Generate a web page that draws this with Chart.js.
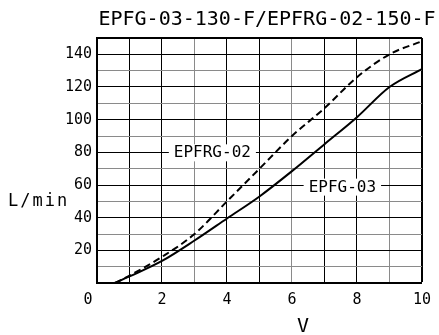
<!DOCTYPE html>
<html>
<head>
<meta charset="utf-8">
<script src="https://cdn.jsdelivr.net/npm/chart.js@4/dist/chart.umd.min.js"></script>
<style>
  html, body { margin: 0; padding: 0; background: #fff; }
</style>
</head>
<body>
<canvas id="flowChart" width="439" height="335"></canvas>
<script>
// input voltage (V) and flow (L/min)
const voltage = [0.55, 1, 2, 3, 4, 5, 6, 7, 8, 9, 10];
const epfg03  = [0, 4, 13.5, 26, 39.5, 53, 68.5, 85, 101.5, 120, 131];
const epfrg02 = [0, 4.5, 16, 30, 50, 70, 90, 107, 126, 140, 148];

const seriesNames = ['EPFG-03', 'EPFRG-02'];
const xTickLabels = [0, 2, 4, 6, 8, 10];
const yTickLabels = [20, 40, 60, 80, 100, 120, 140];

const chartTitle = 'EPFG-03-130-F/EPFRG-02-150-F';
const yTitle = 'L/min';
const xTitle = 'V';

const MONO = '"DejaVu Sans Mono", monospace';

function toXY(ys) {
	var pts = [];
	for (var i = 0; i < voltage.length; i++) {
		pts.push({x: voltage[i], y: ys[i]});
	}
	return pts;
}

// text that sits on the curves, titles etc.
const textPlugin = {
	id: 'texts',
	afterDraw(chart) {
		const ctx = chart.ctx;
		const xs = chart.scales.x, ys = chart.scales.y;
		ctx.save();
		ctx.fillStyle = '#000';
		ctx.textBaseline = 'middle';

		// title
		ctx.font = '20px ' + MONO;
		ctx.textAlign = 'center';
		ctx.fillText(chartTitle, 267, 20);

		// axis titles
		ctx.font = '17px ' + MONO;
		ctx.textAlign = 'left';
		ctx.letterSpacing = '2px';
		ctx.fillText(yTitle, 8, 202);
		ctx.letterSpacing = '0px';
		ctx.font = '20px ' + MONO;
		ctx.textAlign = 'center';
		ctx.fillText(xTitle, 303, 327);

		// curve labels on white boxes
		const tags = [
			{text: seriesNames[1], v: 3.55, q: 80},
			{text: seriesNames[0], v: 7.55, q: 59}
		];
		ctx.font = '16px ' + MONO;
		tags.forEach(function(t) {
			const px = xs.getPixelForValue(t.v);
			const py = ys.getPixelForValue(t.q);
			const w = ctx.measureText(t.text).width + 10;
			ctx.fillStyle = '#fff';
			ctx.fillRect(px - w / 2, py - 8, w, 17);
			ctx.fillStyle = '#000';
			ctx.fillText(t.text, px, py + 1);
		});
		ctx.restore();
	}
};

const config = {
	type: 'line',
	data: {
		datasets: [
			{
				label: seriesNames[0],
				data: toXY(epfg03),
				borderColor: '#000',
				borderWidth: 2,
				pointRadius: 0,
				cubicInterpolationMode: 'monotone'
			},
			{
				label: seriesNames[1],
				data: toXY(epfrg02),
				borderColor: '#000',
				borderWidth: 2,
				borderDash: [7, 4],
				pointRadius: 0,
				cubicInterpolationMode: 'monotone'
			}
		]
	},
	options: {
		responsive: false,
		animation: false,
		layout: {
			padding: {top: 38, right: 15, left: 0, bottom: 0}
		},
		plugins: {
			legend: {display: false},
			tooltip: {enabled: false}
		},
		scales: {
			x: {
				type: 'linear',
				min: 0,
				max: 10,
				afterFit: function(s) { s.height = 52; },
				ticks: {
					stepSize: 1,
					padding: 8,
					color: '#000',
					font: {family: MONO, size: 15},
					maxRotation: 0,
					autoSkip: false,
					callback: function(v) {
						if (xTickLabels.indexOf(v) < 0) return '';
						return v === 0 ? '0  ' : String(v);
					}
				},
				grid: {
					drawTicks: false,
					color: function(c) {
						const v = c.tick ? c.tick.value : 0;
						return (v % 3 === 0 && v !== 0) && v !== 10 ? '#8a8a8a' : '#000';
					},
					lineWidth: function(c) {
						return c.tick && c.tick.value === 10 ? 2 : 1;
					}
				},
				border: {color: '#000', width: 2}
			}, //end of x
			y: {
				min: 0,
				max: 150,
				afterFit: function(s) { s.width = 97; },
				ticks: {
					stepSize: 10,
					padding: 5,
					color: '#000',
					font: {family: MONO, size: 15},
					autoSkip: false,
					callback: function(v) {
						return yTickLabels.indexOf(v) >= 0 ? String(v) : '';
					}
				},
				grid: {
					drawTicks: false,
					color: function(c) {
						const v = c.tick ? c.tick.value : 0;
						return (v % 20 === 10 && v !== 150) ? '#8a8a8a' : '#000';
					},
					lineWidth: function(c) {
						return c.tick && c.tick.value === 150 ? 2 : 1;
					}
				},
				border: {color: '#000', width: 2}
			} //end of y
		} //end of scales
	}, //end of options
	plugins: [textPlugin]
}; //end of config

new Chart(document.getElementById('flowChart'), config);
</script>
</body>
</html>
